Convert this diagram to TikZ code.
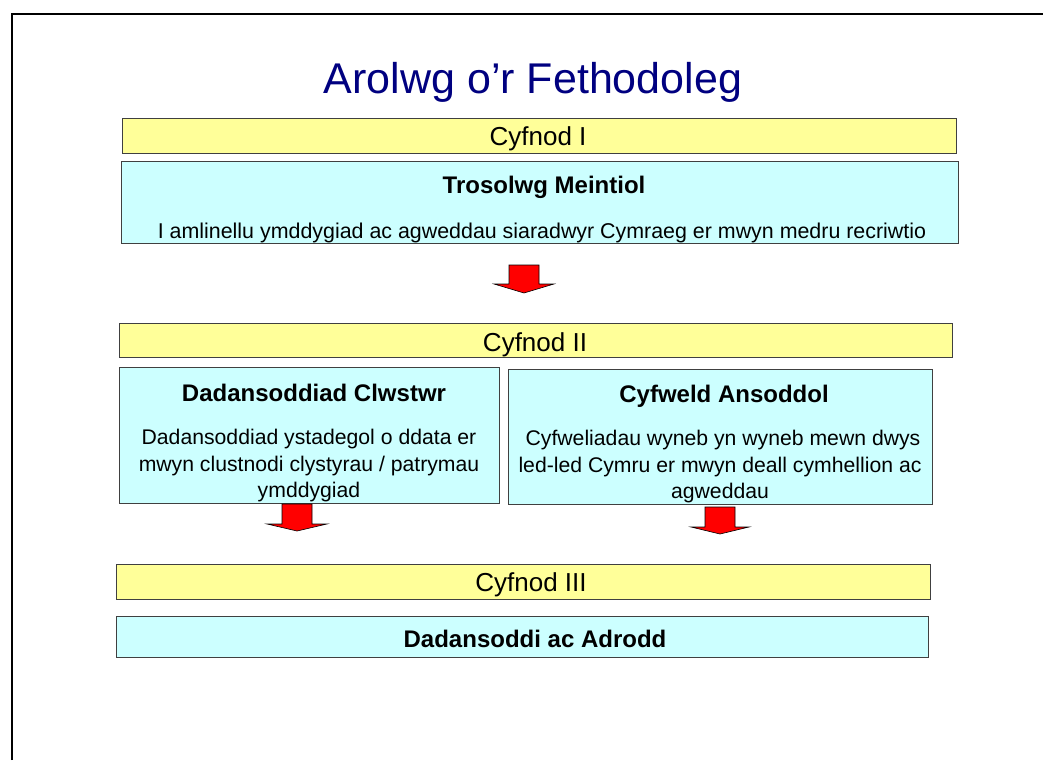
\documentclass[tikz,border=0pt]{standalone}
\usepackage{fontspec}
\setmainfont{Liberation Sans}
\definecolor{barfill}{HTML}{FFFF99}
\definecolor{boxfill}{HTML}{CCFFFF}
\definecolor{titleblue}{HTML}{000080}
\definecolor{edgegray}{HTML}{404040}
\newcommand\titlefnt{\fontsize{43}{50}\selectfont}
\newcommand\cyffnt{\fontsize{26}{30}\selectfont}
\newcommand\headfnt{\fontsize{24}{28}\selectfont\bfseries}
\newcommand\bodyfnt{\fontsize{21.2}{27}\selectfont}
\begin{document}
\begin{tikzpicture}[x=1pt,y=-1pt,
  phasebar/.style={draw=edgegray, fill=barfill, line width=1pt, inner sep=0pt, outer sep=0pt, anchor=north west},
  infobox/.style={draw=edgegray, fill=boxfill, line width=1pt, inner sep=0pt, outer sep=0pt, anchor=north west},
  lbl/.style={anchor=base, inner sep=0pt},
  blockarrow/.style={fill=red, draw=black, line width=0.6pt, line join=miter}
]
\useasboundingbox (0,0) rectangle (1043,760);
% frame
\coordinate (fb) at (12,760);
\coordinate (ftl) at (12,14);
\coordinate (fr) at (1043,14);
\draw[line width=2pt] (fb) -- (ftl) -- (fr);

% title
\node[lbl, font=\titlefnt, text=titleblue] (title) at (533,93) {Arolwg o’r Fethodoleg};

% phase I
\node[phasebar, minimum width=834pt, minimum height=35pt] (bar1) at (122,118) {};
\node[lbl, font=\cyffnt] (bar1t) at (538,145) {Cyfnod I};
\node[infobox, minimum width=837pt, minimum height=82pt] (box1) at (121,161) {};
\node[lbl, font=\headfnt] (box1h) at (544,193) {Trosolwg Meintiol};
\node[lbl, font=\fontsize{21.4}{27}\selectfont] (box1b) at (542,238) {I amlinellu ymddygiad ac agweddau siaradwyr Cymraeg er mwyn medru recriwtio};

% arrow 1
\coordinate (a1) at (524,265);
\draw[blockarrow] (a1) ++(-15,0) -- ++(30,0) -- ++(0,19) -- ++(15,0) -- ++(-30,9) -- ++(-30,-9) -- ++(15,0) -- cycle;

% phase II
\node[phasebar, minimum width=833pt, minimum height=34pt] (bar2) at (119,323) {};
\node[lbl, font=\cyffnt] (bar2t) at (535,351) {Cyfnod II};

\node[infobox, minimum width=380pt, minimum height=136pt] (box2) at (119,367) {};
\node[lbl, font=\headfnt] (box2h) at (314,401) {Dadansoddiad Clwstwr};
\node[lbl, font=\bodyfnt] (box2b1) at (309,444) {Dadansoddiad ystadegol o ddata er};
\node[lbl, font=\bodyfnt] (box2b2) at (309,471) {mwyn clustnodi clystyrau / patrymau};
\node[lbl, font=\bodyfnt] (box2b3) at (309,497) {ymddygiad};

\node[infobox, minimum width=424pt, minimum height=135pt] (box3) at (508,369) {};
\node[lbl, font=\headfnt] (box3h) at (724,402) {Cyfweld Ansoddol};
\node[lbl, font=\bodyfnt] (box3b1) at (723,445) {Cyfweliadau wyneb yn wyneb mewn dwys};
\node[lbl, font=\bodyfnt] (box3b2) at (720,472) {led-led Cymru er mwyn deall cymhellion ac};
\node[lbl, font=\bodyfnt] (box3b3) at (720,498) {agweddau};

% arrows 2 and 3
\coordinate (a2) at (297,504);
\draw[blockarrow] (a2) ++(-15,0) -- ++(30,0) -- ++(0,20) -- ++(15,0) -- ++(-30,7) -- ++(-30,-7) -- ++(15,0) -- cycle;
\coordinate (a3) at (720,507);
\draw[blockarrow] (a3) ++(-15,0) -- ++(30,0) -- ++(0,20) -- ++(14,0) -- ++(-29,7) -- ++(-29,-7) -- ++(14,0) -- cycle;

% phase III
\node[phasebar, minimum width=814pt, minimum height=35pt] (bar3) at (116,564) {};
\node[lbl, font=\cyffnt] (bar3t) at (531,591) {Cyfnod III};
\node[infobox, minimum width=812pt, minimum height=41pt] (box4) at (116,616) {};
\node[lbl, font=\headfnt] (box4h) at (535,647) {Dadansoddi ac Adrodd};
\end{tikzpicture}
\end{document}
